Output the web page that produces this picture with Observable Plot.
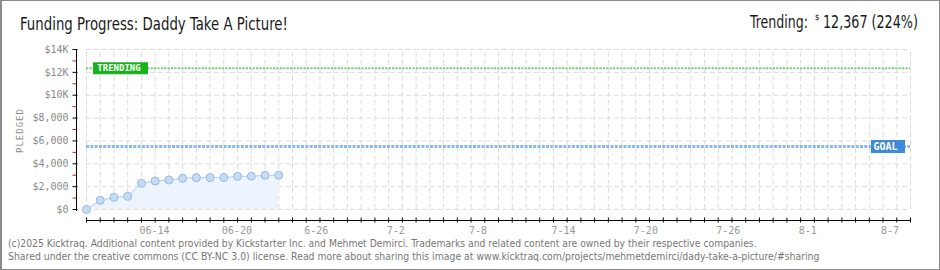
<!DOCTYPE html>
<html><head><meta charset="utf-8">
<script src="https://cdn.jsdelivr.net/npm/d3@7"></script>
<script src="https://cdn.jsdelivr.net/npm/@observablehq/plot@0.6"></script>
<style>
html,body{margin:0;padding:0;background:#fff;}
#wrap{position:relative;width:940px;height:270px;overflow:hidden;background:#fff;}
#chart{position:absolute;left:0;top:0;}
#overlay{position:absolute;left:0;top:0;pointer-events:none;}
#border{position:absolute;left:0;top:0;width:940px;height:270px;box-sizing:border-box;border:1px solid #8a8a8a;border-left-width:2px;pointer-events:none;}
</style></head><body>
<div id="wrap"><div id="chart"></div><svg id="overlay" width="940" height="270"></svg><div id="border"></div></div>
<script>
// ---- data ----
const title = "Funding Progress: Daddy Take A Picture!";
const dates = ["2025-06-10","2025-06-11","2025-06-12","2025-06-13","2025-06-14","2025-06-15","2025-06-16","2025-06-17","2025-06-18","2025-06-19","2025-06-20","2025-06-21","2025-06-22","2025-06-23","2025-06-24"];
const pledged = [0, 800, 1070, 1150, 2290, 2490, 2580, 2730, 2780, 2790, 2800, 2900, 2910, 2990, 3000];
const goal = 5520;
const trending = 12367;
const trendingPct = 224;
const yTicks = [0, 2000, 4000, 6000, 8000, 10000, 12000, 14000];
const yTickLabels = ["$0", "$2,000", "$4,000", "$6,000", "$8,000", "$10K", "$12K", "$14K"];
const yMinorTicks = [1000, 3000, 5000, 7000, 9000, 11000, 13000];
const xStart = "2025-06-10", xEnd = "2025-08-09";
const xTickDates = ["2025-06-14","2025-06-20","2025-06-26","2025-07-02","2025-07-08","2025-07-14","2025-07-20","2025-07-26","2025-08-01","2025-08-07"];
const xTickLabels = ["06-14","06-20","6-26","7-2","7-8","7-14","7-20","7-26","8-1","8-7"];
const footerLines = [
  "(c)2025 Kicktraq. Additional content provided by Kickstarter Inc. and Mehmet Demirci. Trademarks and related content are owned by their respective companies.",
  "Shared under the creative commons (CC BY-NC 3.0) license. Read more about sharing this image at www.kicktraq.com/projects/mehmetdemirci/dady-take-a-picture/#sharing"
];

// ---- build ----
const parse = d3.utcParse("%Y-%m-%d");
const data = dates.map((d, i) => ({date: parse(d), value: pledged[i]}));
const days = d3.utcDay.range(parse(xStart), d3.utcDay.offset(parse(xEnd), 1));
const xTickMap = new Map(xTickDates.map((d, i) => [+parse(d), xTickLabels[i]]));
const yLabelMap = new Map(yTicks.map((v, i) => [v, yTickLabels[i]]));
const mono = "'DejaVu Sans Mono', monospace";

const plot = Plot.plot({
  width: 940, height: 240,
  marginTop: 49, marginBottom: 20, marginLeft: 76, marginRight: 30,
  style: {background: "transparent", fontFamily: mono, fontSize: "10px", overflow: "visible"},
  x: {type: "utc", domain: [parse(xStart), parse(xEnd)], range: [86, 910], label: null},
  y: {domain: [0, 14000], range: [209, 49], label: null},
  marks: [
    Plot.ruleX(days, {x: d => d, y1: 0, y2: 14000, stroke: "#dcdcdc", strokeDasharray: "5,3"}),
    Plot.ruleY(yTicks, {y: d => d, insetLeft: 10, stroke: "#dcdcdc", strokeDasharray: "5,3"}),
    Plot.areaY(data, {x: "date", y: "value", fill: "#edf4fd"}),
    Plot.lineY(data, {x: "date", y: "value", stroke: "#b5d2f0", strokeWidth: 1}),
    Plot.ruleY([trending], {y: d => d, insetLeft: 10, stroke: "#78d078", strokeWidth: 2, strokeDasharray: "2.2,1.2"}),
    Plot.ruleY([goal], {y: d => d, insetLeft: 10, stroke: "#8cb8e8", strokeWidth: 3, strokeDasharray: "3,1.3"}),
    Plot.dot(data, {x: "date", y: "value", r: 4, fill: "#c5dcf6", stroke: "#98b8de", strokeWidth: 1}),
    Plot.ruleY([trending], {y: d => d, stroke: "#19b319", strokeWidth: 12, insetLeft: 17, insetRight: 762}),
    Plot.text([trending], {y: d => d, frameAnchor: "left", dx: 42.5, textAnchor: "middle", text: () => "TRENDING", fill: "#fff", fontWeight: "bold", fontSize: 9}),
    Plot.ruleY([goal], {y: d => d, stroke: "#3d8ad9", strokeWidth: 13, insetLeft: 795, insetRight: 5}),
    Plot.text([goal], {y: d => d, frameAnchor: "right", dx: -25, textAnchor: "middle", text: () => "GOAL", fill: "#fff", fontWeight: "bold", fontSize: 10}),
    Plot.frame({anchor: "left", insetBottom: 10, stroke: "#000"}),
    Plot.frame({anchor: "bottom", insetLeft: 10, stroke: "#000"}),
    Plot.axisY(yMinorTicks, {tickSize: 3.5, stroke: "#e01010", tickFormat: () => "", label: null}),
    Plot.axisY(yTicks, {tickSize: 5, dx: 1.5, stroke: "#000", tickFormat: () => "", label: null}),
    Plot.axisY(yTicks, {tickSize: 0, tickPadding: 8, tickFormat: d => yLabelMap.get(d), fill: "#8a8a8a", fontSize: 10, label: null}),
    Plot.axisX(days, {tickSize: 5, dy: -2.5, stroke: "#000", tickFormat: () => "", label: null}),
    Plot.axisX(xTickDates.map(parse), {tickSize: 0, tickPadding: 6, textAnchor: "start", dx: -2, tickFormat: d => xTickMap.get(+d), fill: "#999", fontSize: 10, label: null}),
    Plot.text(["PLEDGED"], {frameAnchor: "left", dx: -56, dy: -4.5, rotate: -90, textAnchor: "middle", text: d => d, fill: "#8a8a8a", fontSize: 9})
  ]
});
plot.querySelectorAll("text").forEach(t => { if (t.textContent === "PLEDGED") t.style.letterSpacing = "1px"; });
document.getElementById("chart").appendChild(plot);

// ---- header & footer text (scaled horizontally to the reference widths) ----
const ov = d3.select("#overlay");
const narrow = "'Liberation Sans Narrow','DejaVu Sans Condensed','Liberation Sans',sans-serif";
function txt(x, y, s, size, len, fill, family) {
  const t = ov.append("text").attr("x", 0).attr("y", 0).attr("font-size", size)
    .attr("font-family", family || narrow).attr("fill", fill).text(s);
  const w = t.node().getComputedTextLength() || len;
  const sx = len ? len / w : 1;
  t.attr("transform", `translate(${x},${y}) scale(${sx},1)`);
  return t;
}
txt(20, 30, title, 17, 268, "#1a1a1a");
txt(750, 27.5, "Trending:", 17, 58, "#1a1a1a");
txt(815, 20, "$", 8, 4.5, "#1a1a1a");
txt(823, 27.5, d3.format(",")(trending) + " (" + trendingPct + "%)", 17, 95, "#1a1a1a");
txt(8, 247, footerLines[0], 10, 749, "#777", "'DejaVu Sans',sans-serif");
txt(8, 259.5, footerLines[1], 10, 813, "#777", "'DejaVu Sans',sans-serif");
</script>
</body></html>
